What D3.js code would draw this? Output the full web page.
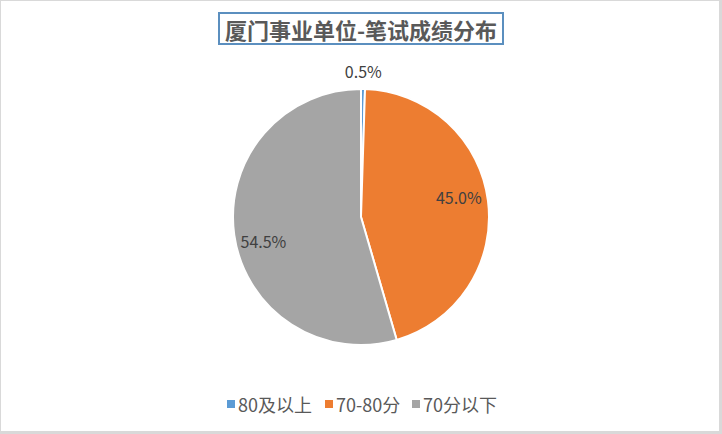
<!DOCTYPE html>
<html>
<head>
<meta charset="utf-8">
<script src="https://cdn.jsdelivr.net/npm/d3@7"></script>
<style>
  html, body { margin: 0; padding: 0; background: #d9d9d9; }
  svg { display: block; }
  text { font-family: "Noto Sans CJK SC", "Noto Sans", sans-serif; }
</style>
</head>
<body>
<div id="chart"></div>
<script>
// chart data
const categories = ['80及以上', '70-80分', '70分以下'];
const shares = [0.5, 45.0, 54.5];
const sliceColors = ['#5b9bd5', '#ed7d31', '#a5a5a5'];
const titleText = '厦门事业单位-笔试成绩分布';

const width = 722;
const height = 434;

const svg = d3.select('#chart')
    .append('svg')
    .attr('width', width)
    .attr('height', height);

// chart area
svg.append('rect')
    .attr('x', 1)
    .attr('y', 1)
    .attr('width', 718)
    .attr('height', 430)
    .attr('fill', '#ffffff');

// title with box
const titleG = svg.append('g');
titleG.append('rect')
    .attr('x', 219)
    .attr('y', 13)
    .attr('width', 284)
    .attr('height', 31)
    .attr('fill', '#ffffff')
    .attr('stroke', '#5b8fbf')
    .attr('stroke-width', 2);
titleG.append('text')
    .attr('x', 361)
    .attr('y', 29)
    .attr('text-anchor', 'middle')
    .attr('dominant-baseline', 'central')
    .style('font-size', '22px')
    .style('font-weight', 'bold')
    .style('fill', '#595959')
    .text(titleText);

// pie
const cx = 361, cy = 217, radius = 128;
const data = categories.map((c, i) => ({cat: c, value: shares[i], color: sliceColors[i]}));

const pie = d3.pie()
    .value(d => d.value)
    .sort(null);

const arcs = pie(data);
const arcGen = d3.arc().innerRadius(0).outerRadius(radius);
const labelArc = d3.arc().innerRadius(radius * 0.77).outerRadius(radius * 0.77);

const g = svg.append('g')
    .attr('transform', `translate(${cx},${cy})`);

g.selectAll('path.slice')
    .data(arcs)
    .enter()
    .append('path')
    .attr('class', 'slice')
    .attr('d', arcGen)
    .attr('fill', d => d.data.color)
    .attr('stroke', '#ffffff')
    .attr('stroke-width', 2)
    .attr('stroke-linejoin', 'round');

// labels: small slices go outside, others inside
const outArc = d3.arc().innerRadius(radius + 18).outerRadius(radius + 18);
g.selectAll('text.pct')
    .data(arcs)
    .enter()
    .append('text')
    .attr('class', 'pct')
    .attr('transform', d => {
        const p = d.data.value < 5 ? outArc.centroid(d) : labelArc.centroid(d);
        // excel nudges the label away from the horizontal a little
        const dy = d.data.value < 5 ? 0 : (p[1] < 0 ? -8 : 10);
        return `translate(${p[0]},${p[1] + dy})`;
    })
    .attr('text-anchor', 'middle')
    .attr('dominant-baseline', 'central')
    .style('font-size', '16px')
    .style('fill', '#404040')
    .text(d => d3.format('.1f')(d.data.value) + '%');

// legend
const legendX = [227, 325, 412];
const legend = svg.append('g');
const items = legend.selectAll('g.item')
    .data(data)
    .enter()
    .append('g')
    .attr('class', 'item')
    .attr('transform', (d, i) => `translate(${legendX[i]},404)`);

items.append('rect')
    .attr('x', 0)
    .attr('y', -4)
    .attr('width', 8)
    .attr('height', 8)
    .attr('fill', d => d.color);

items.append('text')
    .attr('x', 11)
    .attr('y', 0)
    .attr('dominant-baseline', 'central')
    .style('font-size', '18px')
    .style('fill', '#595959')
    .text(d => d.cat);
</script>
</body>
</html>
